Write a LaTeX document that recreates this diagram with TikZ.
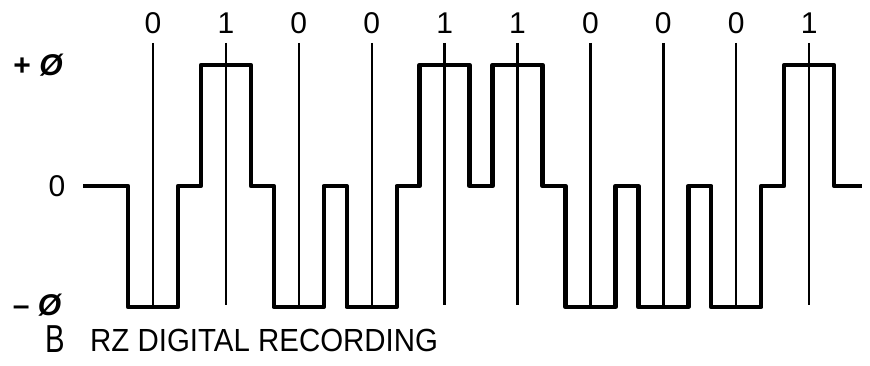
\documentclass[tikz,border=0pt]{standalone}
\usepackage{fontspec}
\setmainfont{Liberation Sans}
\usetikzlibrary{calc}
\tikzset{
  bitline/.style={line width=2.4pt},
  signal/.style={line width=4.4pt,line join=round},
  bitlabel/.style={font=\fontsize{30}{30}\selectfont,inner sep=0pt},
  levellabel/.style={font=\fontsize{30}{30}\selectfont\bfseries,inner sep=0pt},
  caption/.style={font=\fontsize{32}{32}\selectfont,inner sep=0pt,anchor=west}
}

\begin{document}
\begin{tikzpicture}[x=1pt,y=-1pt]
    \useasboundingbox (0,0) rectangle (870,366);
    \foreach \b [count=\i from 0, evaluate=\i as \xc using 153+72.9*\i] in {0,1,0,0,1,1,0,0,0,1} {
      \node[bitlabel] (b\i) at (\xc,23) {\b};
      \draw[bitline] (\xc,43) -- (\xc,305);
    }
    \draw[signal] (83,186)
      \foreach \b [count=\i from 0, evaluate=\i as \xc using 153+72.9*\i,
                   evaluate=\b as \lev using 186-121*(2*\b-1)] in {0,1,0,0,1,1,0,0,0,1} {
        -- (\xc-25,186) -- (\xc-25,\lev) -- (\xc+25,\lev) -- (\xc+25,186)
      } -- (862,186);
    \node[levellabel] (lplus) at (38,65) {+ {\itshape Ø}};
    \node[levellabel,font=\fontsize{30}{30}\selectfont] (lzero) at (57,186) {0};
    \node[levellabel] (lminus) at (37,305) {– {\itshape Ø}};
    \node[caption,font=\fontsize{39}{39}\selectfont,xscale=0.75] (fig) at (45,339) {B};
    \node[caption,xscale=0.92] (title) at (90,340) {RZ DIGITAL RECORDING};
  \end{tikzpicture}
\end{document}
